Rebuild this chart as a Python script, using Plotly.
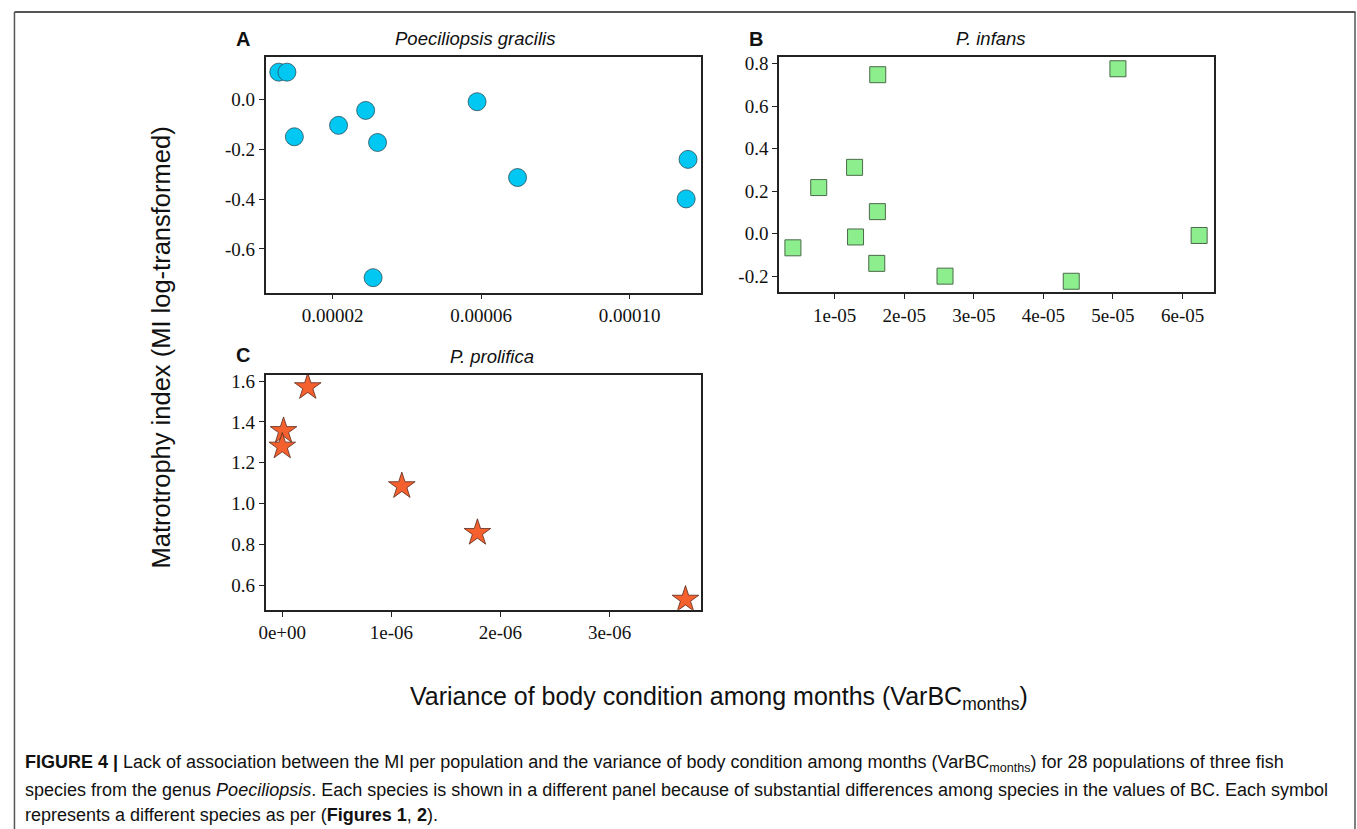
import plotly.graph_objects as go

W, H = 1357, 829

# ---- data ----
gracilis_x = [5.5e-6, 7.7e-6, 9.7e-6, 2.16e-5, 2.89e-5, 3.21e-5, 3.09e-5, 5.89e-5, 6.98e-5, 1.157e-4, 1.152e-4]
gracilis_y = [0.111, 0.111, -0.149, -0.103, -0.043, -0.172, -0.716, -0.008, -0.313, -0.240, -0.399]

infans_x = [1.619e-5, 5.071e-5, 1.286e-5, 0.771e-5, 1.614e-5, 1.30e-5, 0.40e-5, 6.238e-5, 1.605e-5, 2.586e-5, 4.40e-5]
infans_y = [0.747, 0.775, 0.312, 0.217, 0.104, -0.015, -0.066, -0.008, -0.139, -0.199, -0.223]

prolifica_x = [2.34e-7, 1.2e-8, 0.0, 1.096e-6, 1.789e-6, 3.696e-6]
prolifica_y = [1.571, 1.356, 1.280, 1.086, 0.857, 0.530]

a_xticks = [0.00002, 0.00006, 0.00010]
a_xtext = ["0.00002", "0.00006", "0.00010"]
a_yticks = [-0.6, -0.4, -0.2, 0.0]
a_ytext = ["-0.6", "-0.4", "-0.2", "0.0"]

b_xticks = [1e-5, 2e-5, 3e-5, 4e-5, 5e-5, 6e-5]
b_xtext = ["1e-05", "2e-05", "3e-05", "4e-05", "5e-05", "6e-05"]
b_yticks = [-0.2, 0.0, 0.2, 0.4, 0.6, 0.8]
b_ytext = ["-0.2", "0.0", "0.2", "0.4", "0.6", "0.8"]

c_xticks = [0, 1e-6, 2e-6, 3e-6]
c_xtext = ["0e+00", "1e-06", "2e-06", "3e-06"]
c_yticks = [0.6, 0.8, 1.0, 1.2, 1.4, 1.6]
c_ytext = ["0.6", "0.8", "1.0", "1.2", "1.4", "1.6"]


def px(x):
    return x / W


def py(y):
    return 1 - y / H


fig = go.Figure()

fig.add_trace(go.Scatter(x=gracilis_x, y=gracilis_y, mode="markers", xaxis="x", yaxis="y",
                         marker=dict(symbol="circle", size=18, color="#00C8F2",
                                     line=dict(color="#2a4f5a", width=0.8)),
                         showlegend=False))
fig.add_trace(go.Scatter(x=infans_x, y=infans_y, mode="markers", xaxis="x2", yaxis="y2",
                         marker=dict(symbol="square", size=16, color="#8CEE8C",
                                     line=dict(color="#4a6a4a", width=1)),
                         showlegend=False))
fig.add_trace(go.Scatter(x=prolifica_x, y=prolifica_y, mode="markers", xaxis="x3", yaxis="y3",
                         marker=dict(symbol="star", size=20, color="#F4612F",
                                     line=dict(color="#5a2a1a", width=0.8)),
                         showlegend=False))

tickfont = dict(family="Liberation Serif, Times New Roman, serif", size=19, color="#111")
common = dict(showline=True, linecolor="#222", linewidth=1.6, mirror=True, ticks="outside",
              ticklen=5, tickwidth=1.2, tickcolor="#222", showgrid=False, zeroline=False,
              tickfont=tickfont, tickmode="array")

fig.update_layout(
    width=W, height=H, autosize=False,
    margin=dict(l=0, r=0, t=0, b=0),
    paper_bgcolor="white", plot_bgcolor="white",
    xaxis=dict(domain=[px(260), px(698)], range=[1.97e-6, 1.193e-4], anchor="y",
               tickvals=a_xticks, ticktext=a_xtext, **common),
    yaxis=dict(domain=[py(290), py(53)], range=[-0.776, 0.173], anchor="x",
               tickvals=a_yticks, ticktext=a_ytext, **common),
    xaxis2=dict(domain=[px(776), px(1213)], range=[2.0e-6, 6.448e-5], anchor="y2",
                tickvals=b_xticks, ticktext=b_xtext, **common),
    yaxis2=dict(domain=[py(289.3), py(53.3)], range=[-0.273, 0.830], anchor="x2",
                tickvals=b_yticks, ticktext=b_ytext, **common),
    xaxis3=dict(domain=[px(260), px(698)], range=[-1.52e-7, 3.842e-6], anchor="y3",
                tickvals=c_xticks, ticktext=c_xtext, **common),
    yaxis3=dict(domain=[py(608.7), py(372.3)], range=[0.480, 1.6325], anchor="x3",
                tickvals=c_yticks, ticktext=c_ytext, **common),
)

sans = "Liberation Sans, Arial, sans-serif"
ann = []


def text(x, y, t, size, family=sans, xanchor="center", yanchor="middle", textangle=0, color="#111"):
    ann.append(dict(x=px(x), y=py(y), xref="paper", yref="paper", text=t, showarrow=False,
                    xanchor=xanchor, yanchor=yanchor, textangle=textangle,
                    font=dict(family=family, size=size, color=color)))


text(470, 35, "<i>Poeciliopsis gracilis</i>", 18.5)
text(989, 35, "<i>P. infans</i>", 18.5)
text(488, 354, "<i>P. prolifica</i>", 18.5)
text(237, 35, "<b>A</b>", 20)
text(753, 35, "<b>B</b>", 20)
text(237, 353, "<b>C</b>", 20)
text(155, 345, "Matrotrophy index (MI log-transformed)", 25.5, textangle=-90)
text(716, 697, "Variance of body condition among months (VarBC<sub>months</sub>)", 25)

cap = "Liberation Sans, Arial, sans-serif"
text(16, 763, "<b>FIGURE 4 |</b> Lack of association between the MI per population and the variance of body condition among months (VarBC<sub>months</sub>) for 28 populations of three fish",
     18, family=cap, xanchor="left")
text(16, 790, "species from the genus <i>Poeciliopsis</i>. Each species is shown in a different panel because of substantial differences among species in the values of BC. Each symbol",
     18, family=cap, xanchor="left")
text(16, 815, "represents a different species as per (<b>Figures 1</b>, <b>2</b>).",
     18, family=cap, xanchor="left")

fig.update_layout(annotations=ann)

fig.update_layout(shapes=[
    dict(type="line", xref="paper", yref="paper", x0=px(7.5), x1=px(1355.5), y0=py(8), y1=py(8),
         line=dict(color="#555", width=2)),
    dict(type="line", xref="paper", yref="paper", x0=px(7.5), x1=px(7.5), y0=py(8), y1=py(829),
         line=dict(color="#555", width=1.5)),
    dict(type="line", xref="paper", yref="paper", x0=px(1355), x1=px(1355), y0=py(8), y1=py(829),
         line=dict(color="#555", width=1.5)),
])

fig.write_html("out.html", config={"displayModeBar": False},
               post_script="document.body.style.margin='0';document.body.style.overflow='hidden';")
